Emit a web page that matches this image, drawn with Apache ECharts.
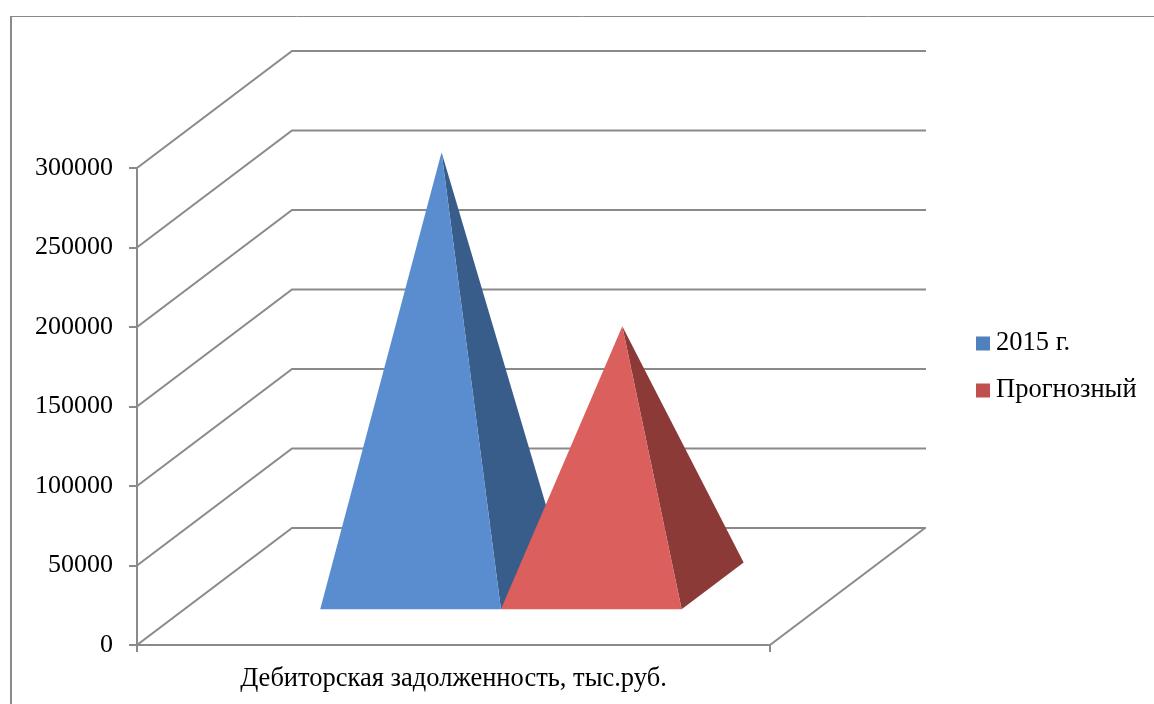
<!DOCTYPE html>
<html>
<head>
<meta charset="utf-8">
<style>html,body{margin:0;padding:0;background:#fff}#chart{width:1154px;height:704px}</style>
<script src="https://cdn.jsdelivr.net/npm/echarts@6/dist/echarts.min.js"></script>
</head>
<body>
<div id="chart"></div>
<script>
// Receivables, thousand roubles
var categories = ['Дебиторская задолженность, тыс.руб.'];
var seriesNames = ['2015 г.', 'Прогнозный'];
var values2015 = [272600];
var valuesForecast = [163200];
var axisTicks = [0, 50000, 100000, 150000, 200000, 250000, 300000];

// Oblique projection of the 3D box: screen offset of the full chart depth
var DEPTH_X = 155;
var DEPTH_Y = -117;
var WALL_RIGHT = 926;
var BASE_WIDTH = 0.2855;  // pyramid base as a share of the category band
var DEPTH_FRONT = 0.306, DEPTH_BACK = 0.706;
var LINE = '#8a8a8a';
var SERIF = '"Liberation Serif", serif';

function renderWalls(params, api) {
  var p = api.coord([0, api.value(0)]);
  var left = params.coordSys.x;
  var y = p[1];
  var children = [{
    type: 'polyline',
    shape: { points: [[left, y], [left + DEPTH_X, y + DEPTH_Y], [WALL_RIGHT, y + DEPTH_Y]] },
    style: { stroke: LINE, lineWidth: 2, fill: null }
  }];
  if (params.dataIndex === 0) {
    // right edge of the floor
    var right = left + params.coordSys.width;
    children.push({
      type: 'line',
      shape: { x1: right, y1: y, x2: right + DEPTH_X, y2: y + DEPTH_Y },
      style: { stroke: LINE, lineWidth: 2 }
    });
  }
  return { type: 'group', children: children };
}

function pyramid(side, front, shade) {
  return function (params, api) {
    var band = api.size([1, 0])[0];
    var base = api.coord([0, 0]);
    var top = api.coord([0, api.value(1)]);
    var w = band * BASE_WIDTH;
    var x0 = side < 0 ? base[0] - w : base[0];
    var x1 = x0 + w;
    var yb = base[1];
    var fl = [x0 + DEPTH_X * DEPTH_FRONT, yb + DEPTH_Y * DEPTH_FRONT];
    var fr = [x1 + DEPTH_X * DEPTH_FRONT, yb + DEPTH_Y * DEPTH_FRONT];
    var br = [x1 + DEPTH_X * DEPTH_BACK, yb + DEPTH_Y * DEPTH_BACK];
    var mid = (DEPTH_FRONT + DEPTH_BACK) / 2;
    var apex = [(x0 + x1) / 2 + DEPTH_X * mid, top[1] + DEPTH_Y * mid];
    return {
      type: 'group',
      children: [
        { type: 'polygon', shape: { points: [fr, br, apex] }, style: { fill: shade } },
        { type: 'polygon', shape: { points: [fl, fr, apex] }, style: { fill: front } }
      ]
    };
  };
}

var chart = echarts.init(document.getElementById('chart'), null, { renderer: 'canvas' });
chart.setOption({
  animation: false,
  backgroundColor: '#ffffff',
  textStyle: { fontFamily: SERIF },
  grid: { left: 137, right: 384, top: 168, bottom: 59, containLabel: false },
  xAxis: {
    type: 'category',
    data: categories,
    axisLine: { lineStyle: { color: LINE, width: 2 } },
    axisTick: { show: true, length: 7, lineStyle: { color: LINE, width: 2 } },
    axisLabel: { color: '#000', fontSize: 26.5, fontFamily: SERIF, margin: 21 }
  },
  yAxis: {
    type: 'value',
    min: 0,
    max: 300000,
    interval: 50000,
    splitLine: { show: false },
    axisLine: { show: true, lineStyle: { color: LINE, width: 2 } },
    axisTick: { show: true, length: 8, lineStyle: { color: LINE, width: 2 } },
    axisLabel: {
      color: '#000',
      fontSize: 26,
      fontFamily: SERIF,
      margin: 24,
      padding: [6, 0, 0, 0],
      formatter: function (v) { return String(v); }
    }
  },
  legend: {
    orient: 'vertical',
    left: 971,
    top: 325,
    itemWidth: 14,
    itemHeight: 14,
    itemGap: 20,
    icon: 'rect',
    data: seriesNames,
    textStyle: { color: '#000', fontSize: 26.5, fontFamily: SERIF, padding: [2, 0, 0, 1] }
  },
  graphic: [
    { type: 'line', shape: { x1: 11, y1: 16.5, x2: 1154, y2: 16.5 }, style: { stroke: '#8a8a8a', lineWidth: 1 }, silent: true },
    { type: 'line', shape: { x1: 11, y1: 16, x2: 11, y2: 704 }, style: { stroke: '#8a8a8a', lineWidth: 2 }, silent: true }
  ],
  series: [
    {
      type: 'custom',
      silent: true,
      z: 1,
      renderItem: renderWalls,
      encode: { y: 0 },
      data: axisTicks.map(function (t) { return [t]; })
    },
    {
      name: seriesNames[0],
      type: 'custom',
      z: 2,
      itemStyle: { color: '#4f81bd' },
      renderItem: pyramid(-1, '#5a8dd0', '#385d8a'),
      encode: { x: 0, y: 1 },
      data: values2015.map(function (v, i) { return [i, v]; })
    },
    {
      name: seriesNames[1],
      type: 'custom',
      z: 3,
      itemStyle: { color: '#c0504d' },
      renderItem: pyramid(1, '#da5f5d', '#8c3a38'),
      encode: { x: 0, y: 1 },
      data: valuesForecast.map(function (v, i) { return [i, v]; })
    }
  ]
});
</script>
</body>
</html>
